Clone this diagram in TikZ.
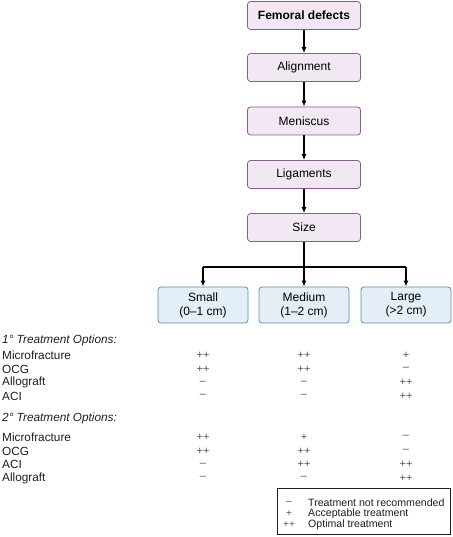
\documentclass[tikz,border=0pt]{standalone}
\usepackage{fontspec}
\setmainfont{Liberation Sans}
\usepackage{xcolor}
\usetikzlibrary{arrows.meta,positioning}
\definecolor{StepLilac}{HTML}{F2E8F3}
\definecolor{StepPlum}{HTML}{8A5C8B}
\definecolor{SizeSky}{HTML}{E3EEF7}
\definecolor{SizeSteel}{HTML}{5A8DB5}
\definecolor{TableInk}{HTML}{1E1E1E}
\definecolor{MarkGrey}{HTML}{555555}

\begin{document}
\begin{tikzpicture}[x=1pt,y=-1pt,>={Latex[length=6pt,width=5pt]},
    stepbox/.style={draw=StepPlum,fill=StepLilac,rounded corners=3pt,line width=0.8pt,
      minimum width=113pt,minimum height=28pt,font=\fontsize{12}{14}\selectfont},
    sizebox/.style={draw=SizeSteel,fill=SizeSky,rounded corners=3pt,line width=0.8pt,
      minimum width=90pt,minimum height=36pt,align=center,inner sep=1pt,
      font=\fontsize{12}{14}\selectfont},
    flow/.style={->,line width=1.3pt},
    rowlabel/.style={anchor=west,inner sep=0pt,TableInk,font=\fontsize{11.8}{13}\selectfont},
    grade/.style={inner sep=0pt,MarkGrey,font=\fontsize{11}{13}\selectfont},
    keytext/.style={anchor=west,inner sep=0pt,TableInk,font=\fontsize{10.6}{12}\selectfont}]
  \useasboundingbox (0,0) rectangle (452,537);

  % main chain
  \node[stepbox,font=\fontsize{12}{14}\selectfont\bfseries] (femoral) at (304,15.5) {Femoral defects};
  \node[stepbox] (alignment) at (304,67.5) {Alignment};
  \node[stepbox] (meniscus) at (304,121) {Meniscus};
  \node[stepbox] (ligaments) at (304,174.5) {Ligaments};
  \node[stepbox] (size) at (304,227.5) {Size};
  \draw[flow] (femoral) -- (alignment);
  \draw[flow] (alignment) -- (meniscus);
  \draw[flow] (meniscus) -- (ligaments);
  \draw[flow] (ligaments) -- (size);

  % size classes
  \node[sizebox] (small) at (203,305) {Small\\(0--1 cm)};
  \node[sizebox] (medium) at (304,305) {Medium\\(1--2 cm)};
  \node[sizebox] (large) at (406,305) {Large\\(>2 cm)};
  \coordinate (fork) at (304,267);
  \draw[line width=1.3pt] (size) -- (fork);
  \draw[line width=1.3pt] (small.north |- fork) -- (large.north |- fork);
  \draw[flow] (small.north |- fork) -- (small);
  \draw[flow] (fork) -- (medium);
  \draw[flow] (large.north |- fork) -- (large);

  % 1st line options
  \node[rowlabel,font=\fontsize{11.8}{13}\selectfont\itshape] (first) at (2,340) {1° Treatment Options:};
  \node[rowlabel] (p1) at (2,355) {Microfracture};
  \node[grade] (p1s) at (small |- p1) {++}; \node[grade] (p1m) at (medium |- p1) {++}; \node[grade] (p1l) at (large |- p1) {+};
  \node[rowlabel] (p2) at (2,369) {OCG};
  \node[grade] (p2s) at (small |- p2) {++}; \node[grade] (p2m) at (medium |- p2) {++}; \node[grade] (p2l) at (large |- p2) {–};
  \node[rowlabel] (p3) at (2,382.5) {Allograft};
  \node[grade] (p3s) at (small |- p3) {–}; \node[grade] (p3m) at (medium |- p3) {–}; \node[grade] (p3l) at (large |- p3) {++};
  \node[rowlabel] (p4) at (2,396) {ACI};
  \node[grade] (p4s) at (small |- p4) {–}; \node[grade] (p4m) at (medium |- p4) {–}; \node[grade] (p4l) at (large |- p4) {++};

  % 2nd line options
  \node[rowlabel,font=\fontsize{11.8}{13}\selectfont\itshape] (second) at (2,418) {2° Treatment Options:};
  \node[rowlabel] (q1) at (2,437) {Microfracture};
  \node[grade] (q1s) at (small |- q1) {++}; \node[grade] (q1m) at (medium |- q1) {+}; \node[grade] (q1l) at (large |- q1) {–};
  \node[rowlabel] (q2) at (2,451) {OCG};
  \node[grade] (q2s) at (small |- q2) {++}; \node[grade] (q2m) at (medium |- q2) {++}; \node[grade] (q2l) at (large |- q2) {–};
  \node[rowlabel] (q3) at (2,464.5) {ACI};
  \node[grade] (q3s) at (small |- q3) {–}; \node[grade] (q3m) at (medium |- q3) {++}; \node[grade] (q3l) at (large |- q3) {++};
  \node[rowlabel] (q4) at (2,478) {Allograft};
  \node[grade] (q4s) at (small |- q4) {–}; \node[grade] (q4m) at (medium |- q4) {–}; \node[grade] (q4l) at (large |- q4) {++};

  % key
  \draw[TableInk,line width=0.7pt] (277.5,488) rectangle (450.5,534);
  \node[grade,font=\fontsize{10}{12}\selectfont] (k1) at (289,503) {–};
  \node[keytext] (k1t) at (308,503) {Treatment not recommended};
  \node[grade,font=\fontsize{10}{12}\selectfont] (k2) at (289,514) {+};
  \node[keytext] (k2t) at (308,514) {Acceptable treatment};
  \node[grade,font=\fontsize{10}{12}\selectfont] (k3) at (289,525) {++};
  \node[keytext] (k3t) at (308,525) {Optimal treatment};
\end{tikzpicture}
\end{document}
